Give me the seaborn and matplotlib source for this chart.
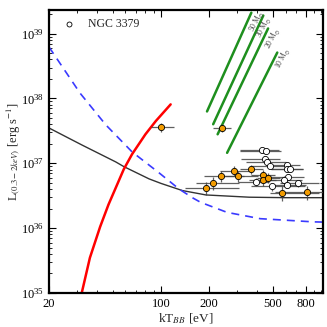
import seaborn as sns
import matplotlib.pyplot as plt
import matplotlib.ticker as mticker
import pandas as pd
import numpy as np

# model curves (kT in eV, L in erg/s)
black_kT = [20, 32.3, 52.2, 58.6, 84.3, 100, 136, 191, 356, 600, 1030]
black_L = [3.5e37, 1.9e37, 1.05e37, 8.9e36, 5.75e36, 4.9e36, 3.8e36, 3.25e36, 3.0e36, 2.95e36, 2.95e36]

blue_kT = [20, 31.3, 45.3, 66, 97.5, 130, 159, 177, 259, 416, 894, 1030]
blue_L = [6.2e38, 1.2e38, 3.9e37, 1.5e37, 7.1e36, 4.0e36, 2.9e36, 2.5e36, 1.75e36, 1.4e36, 1.25e36, 1.24e36]

red_kT = [32, 36, 41.7, 47, 58.6, 66, 80, 93, 115]
red_L = [1.0e35, 3.5e35, 1.05e36, 2.3e36, 8.1e36, 1.38e37, 2.8e37, 4.5e37, 8.1e37]

# Eddington-like tracks for several masses
mass_labels = ["50 M$_{\\odot}$", "30 M$_{\\odot}$", "20 M$_{\\odot}$", "10 M$_{\\odot}$"]
mass_kT = [[194, 367], [212, 436], [226, 467], [259, 533]]
mass_L = [[6.3e37, 2.1e39], [4.0e37, 1.9e39], [2.8e37, 1.2e39], [1.45e37, 5.1e38]]
label_kT = [395, 440, 500, 580]
label_L = [1.55e39, 1.25e39, 8.5e38, 4.2e38]

# NGC 3379 sources, filled (orange)
fill_kT = [100, 239, 190, 210, 237, 286, 303, 367, 437, 431, 466, 571, 814]
fill_L = [3.6e37, 3.5e37, 4.2e36, 5.0e36, 6.3e36, 7.7e36, 6.4e36, 8.1e36, 6.6e36, 5.5e36, 6.0e36, 3.5e36, 3.6e36]
fill_kT_lo = [13, 27, 48, 45, 52, 53, 60, 55, 70, 75, 70, 90, 300]
fill_kT_hi = [21, 35, 118, 98, 93, 90, 100, 70, 80, 90, 90, 400, 250]
fill_L_err = [0.6e37, 0.5e37, 1.0e36, 1.1e36, 1.2e36, 1.4e36, 1.2e36, 1.3e36, 1.2e36, 1.0e36, 1.1e36, 0.9e36, 0.9e36]

# NGC 3379 sources, open
open_kT = [426, 454, 448, 458, 477, 611, 617, 640, 620, 586, 392, 611, 717, 494]
open_L = [1.58e37, 1.55e37, 1.15e37, 1.05e37, 9.1e36, 9.5e36, 8.1e36, 8.1e36, 6.2e36, 5.6e36, 5.2e36, 4.7e36, 4.9e36, 4.4e36]
open_kT_lo = [115, 140, 130, 120, 110, 150, 130, 150, 150, 150, 90, 140, 160, 130]
open_kT_hi = [120, 110, 110, 150, 130, 130, 150, 130, 160, 180, 80, 200, 250, 300]
open_L_err = [1.5e36, 1.5e36, 1.1e36, 1.0e36, 0.9e36, 0.9e36, 0.8e36, 0.8e36, 0.7e36, 0.7e36, 0.7e36, 0.6e36, 0.6e36, 0.6e36]

sns.set_style("ticks")
plt.rcParams["font.family"] = ["Liberation Serif", "DejaVu Serif"]
plt.rcParams["mathtext.fontset"] = "stix"

fig = plt.figure(figsize=(3.27, 3.27), dpi=100)
ax = fig.add_axes([0.15, 0.104, 0.838, 0.865])

sns.lineplot(x=black_kT, y=black_L, color="#333333", lw=1.0, ax=ax, sort=False)
sns.lineplot(x=blue_kT, y=blue_L, color="#3a3aff", lw=1.2, ax=ax, sort=False,
             dashes=False).lines[-1].set_dashes((4.8, 3.6))
sns.lineplot(x=red_kT, y=red_L, color="red", lw=1.8, ax=ax, sort=False)

green_df = pd.concat([pd.DataFrame({"kT": k, "L": l, "mass": m})
                      for k, l, m in zip(mass_kT, mass_L, mass_labels)])
sns.lineplot(data=green_df, x="kT", y="L", hue="mass",
             palette=["#1e8f1e"] * 4, lw=1.8, ax=ax, sort=False,
             estimator=None, legend=False)
for lab, x, y in zip(mass_labels, label_kT, label_L):
    ax.text(x, y, lab, rotation=63, fontsize=5.5, color="#444444",
            ha="center", va="center")

ax.errorbar(fill_kT, fill_L, xerr=[fill_kT_lo, fill_kT_hi], yerr=fill_L_err,
            fmt="none", ecolor="#444444", elinewidth=0.9, capsize=0, alpha=0.85, zorder=3)
ax.errorbar(open_kT, open_L, xerr=[open_kT_lo, open_kT_hi], yerr=open_L_err,
            fmt="none", ecolor="#444444", elinewidth=0.9, capsize=0, alpha=0.85, zorder=3)
sns.scatterplot(x=fill_kT, y=fill_L, color="#f39c00", edgecolor="black",
                linewidth=0.6, s=20, ax=ax, zorder=4)
sns.scatterplot(x=open_kT, y=open_L, color="white", edgecolor="black",
                linewidth=0.6, s=20, ax=ax, zorder=4, label="NGC 3379")

ax.set_xscale("log")
ax.set_yscale("log")
ax.set_xlim(20, 1030)
ax.set_ylim(1e35, 2.3e39)

ax.xaxis.set_major_locator(mticker.FixedLocator([20, 100, 200, 500, 800]))
ax.xaxis.set_major_formatter(mticker.FixedFormatter(["20", "100", "200", "500", "800"]))
ax.xaxis.set_minor_locator(mticker.FixedLocator([30, 40, 50, 60, 70, 80, 90, 300, 400, 600, 700, 900, 1000]))
ax.xaxis.set_minor_formatter(mticker.NullFormatter())
ax.yaxis.set_major_locator(mticker.LogLocator(base=10, numticks=10))
ax.yaxis.set_minor_locator(mticker.LogLocator(base=10, subs=np.arange(2, 10), numticks=20))

ax.tick_params(which="both", direction="in", top=True, right=True, labelsize=9, colors="black")
ax.tick_params(which="major", length=5, width=0.8)
ax.tick_params(which="minor", length=2.5, width=0.6)
for sp in ax.spines.values():
    sp.set_linewidth(1.6)
    sp.set_color("black")

ax.set_xlabel("kT$_{BB}$ [eV]", fontsize=9.5, labelpad=1)
ax.set_ylabel("L$_{(0.3-2keV)}$ [erg s$^{-1}$]", fontsize=9)
ax.yaxis.set_label_coords(-0.10, 0.5)

ax.legend(loc="upper left", frameon=False, fontsize=8.5, handletextpad=0.6,
          borderaxespad=0.3, markerscale=0.8)

plt.savefig("out.png", dpi=100)
